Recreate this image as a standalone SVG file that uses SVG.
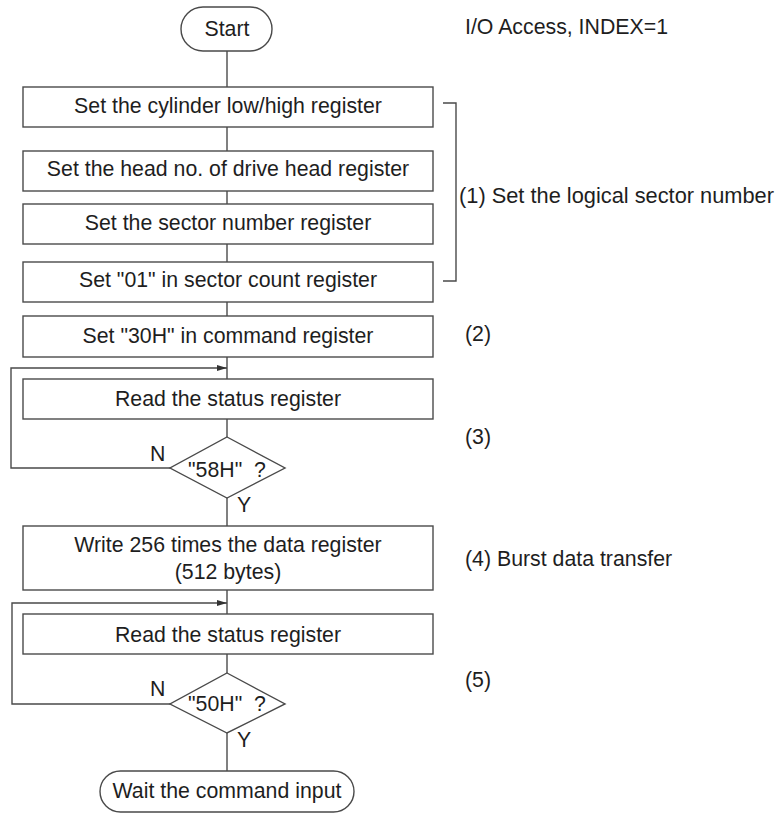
<svg xmlns="http://www.w3.org/2000/svg" width="775" height="814" viewBox="0 0 775 814">
<defs>
<style>
.n{fill:#fff;stroke:#4a4a4a;stroke-width:1.4}
.c{fill:none;stroke:#4a4a4a;stroke-width:1.4}
text{font-family:"Liberation Sans",Arial,sans-serif;font-size:21.3px;fill:#1e1e1e}
.m{text-anchor:middle}
</style>
<marker id="ah" viewBox="0 0 10 6" refX="10" refY="3" markerWidth="10" markerHeight="6" markerUnits="userSpaceOnUse" orient="auto">
<path d="M0,0 L10,3 L0,6 Z" fill="#333"/>
</marker>
</defs>
<rect width="775" height="814" fill="#fff"/>
<g id="connectors">
<line class="c" x1="227" y1="51" x2="227" y2="87"/>
<line class="c" x1="227" y1="127" x2="227" y2="151"/>
<line class="c" x1="227" y1="191" x2="227" y2="204"/>
<line class="c" x1="227" y1="244" x2="227" y2="262"/>
<line class="c" x1="227" y1="302" x2="227" y2="316"/>
<line class="c" x1="227" y1="357" x2="227" y2="379"/>
<line class="c" x1="227" y1="419" x2="227" y2="437"/>
<line class="c" x1="227" y1="498" x2="227" y2="526"/>
<line class="c" x1="227" y1="590" x2="227" y2="614"/>
<line class="c" x1="227" y1="654" x2="227" y2="673"/>
<line class="c" x1="227" y1="733" x2="227" y2="771"/>
<polyline class="c" points="170,468 11,468 11,368 227,368" marker-end="url(#ah)"/>
<polyline class="c" points="170,704 12,704 12,603 227,603" marker-end="url(#ah)"/>
<text x="150" y="461">N</text>
<text x="237" y="512">Y</text>
<text x="150" y="696">N</text>
<text x="237" y="747">Y</text>
</g>
<g id="start">
<rect class="n" x="181" y="7" width="91" height="44" rx="22" ry="22"/>
<text class="m" x="227" y="36">Start</text>
</g>
<g id="box1">
<rect class="n" x="23" y="87" width="410" height="40"/>
<text class="m" x="228" y="113">Set the cylinder low/high register</text>
</g>
<g id="box2">
<rect class="n" x="23" y="151" width="410" height="40"/>
<text class="m" x="228" y="176">Set the head no. of drive head register</text>
</g>
<g id="box3">
<rect class="n" x="23" y="204" width="410" height="40"/>
<text class="m" x="228" y="230">Set the sector number register</text>
</g>
<g id="box4">
<rect class="n" x="23" y="262" width="410" height="40"/>
<text class="m" x="228" y="287">Set "01" in sector count register</text>
</g>
<g id="box5">
<rect class="n" x="23" y="316" width="410" height="41"/>
<text class="m" x="228" y="343">Set "30H" in command register</text>
</g>
<g id="box6">
<rect class="n" x="23" y="379" width="410" height="40"/>
<text class="m" x="228" y="406">Read the status register</text>
</g>
<g id="dec1">
<polygon class="n" points="227,437 285,468 227,498 170,468"/>
<text x="188" y="477" xml:space="preserve">"58H"  ?</text>
</g>
<g id="box7">
<rect class="n" x="23" y="526" width="410" height="64"/>
<text class="m" x="228" y="552">Write 256 times the data register</text>
<text class="m" x="228" y="579">(512 bytes)</text>
</g>
<g id="box8">
<rect class="n" x="23" y="614" width="410" height="40"/>
<text class="m" x="228" y="642">Read the status register</text>
</g>
<g id="dec2">
<polygon class="n" points="227,673 285,704 227,733 170,704"/>
<text x="188" y="711" xml:space="preserve">"50H"  ?</text>
</g>
<g id="end">
<rect class="n" x="100" y="771" width="254" height="41" rx="20.5" ry="20.5"/>
<text class="m" x="227" y="798">Wait the command input</text>
</g>
<g id="annotations">
<polyline class="c" points="443,103 456,103 456,281 443,281"/>
<text x="465" y="34">I/O Access, INDEX=1</text>
<text x="459" y="203" style="font-size:21.8px">(1) Set the logical sector number</text>
<text x="465" y="341">(2)</text>
<text x="465" y="444">(3)</text>
<text x="465" y="566">(4) Burst data transfer</text>
<text x="465" y="687">(5)</text>
</g>
</svg>
